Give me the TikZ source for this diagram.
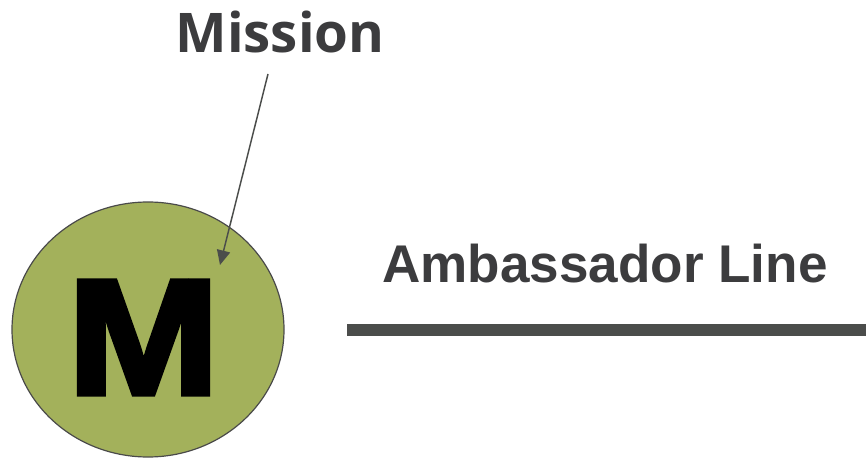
\documentclass[tikz,border=0pt]{standalone}
\usepackage{fontspec}
\setmainfont{Liberation Sans}
\newfontfamily\missionfont{Open Sans}[UprightFont={* Bold}]
\newfontfamily\heavyfont{Liberation Sans}[UprightFont={* Bold},FakeBold=3]
\usetikzlibrary{shapes.geometric,arrows.meta}
\definecolor{txtgray}{HTML}{3C3C3E}
\definecolor{linegray}{HTML}{4B4D4B}
\definecolor{olive}{HTML}{A3B15B}
\definecolor{edgegray}{HTML}{4A4A4A}
\tikzset{
  lbl/.style={inner sep=0pt, text=txtgray},
  conn/.style={draw=linegray, line width=1.1pt, -{Triangle[length=11pt,width=10pt]}},
}
\begin{document}
\begin{tikzpicture}[x=0.75pt,y=-0.75pt]
\useasboundingbox (0,0) rectangle (866,459);
\node[ellipse, draw=edgegray, line width=0.9pt, fill=olive, minimum width=204pt, minimum height=191.25pt, inner sep=0pt] (circ) at (148,329.5) {};
\node[inner sep=0pt] (m) at (143.5,337.5) {\resizebox{114pt}{85pt}{\heavyfont M}};
\node[lbl, anchor=base, font=\missionfont\fontsize{41pt}{48pt}\selectfont] (mission) at (280,53) {Mission};
\coordinate (a) at (268,74);
\coordinate (b) at (220,265);
\draw[conn] (a) -- (b);
\node[lbl, anchor=base west, font=\bfseries\fontsize{39.8pt}{47pt}\selectfont] (amb) at (382,282) {Ambassador Line};
\coordinate (l1) at (347,330);
\coordinate (l2) at (866,330);
\draw[draw=linegray, line width=8.5pt] (l1) -- (l2);
\end{tikzpicture}
\end{document}
